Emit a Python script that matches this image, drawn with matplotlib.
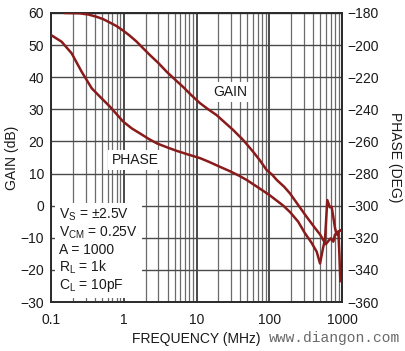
import matplotlib
matplotlib.use("Agg")
import matplotlib.pyplot as plt
from matplotlib import font_manager
from matplotlib.ticker import FixedLocator, NullFormatter, LogLocator

names = {f.name for f in font_manager.fontManager.ttflist}
FAM = 'Liberation Sans Narrow' if 'Liberation Sans Narrow' in names else 'Liberation Sans'
FS = 11.5 if FAM == 'Liberation Sans Narrow' else 10

plt.rcParams['font.family'] = [FAM, 'DejaVu Sans']
plt.rcParams['mathtext.fontset'] = 'custom'
plt.rcParams['mathtext.rm'] = FAM
plt.rcParams['mathtext.it'] = FAM
plt.rcParams['mathtext.default'] = 'regular'

# ---- data ----
gain_freq = [0.155, 0.2, 0.25, 0.33, 0.425, 0.52, 0.648, 0.8, 0.985, 1.2, 1.5, 1.85,
             2.29, 3.0, 3.89, 5.0, 6.6, 8.5, 11.2, 14.5, 18.9, 24.5, 31.8, 44, 60,
             75, 92, 110, 127, 160, 193, 250, 327, 420, 500, 553, 600, 650, 700,
             760, 800, 850, 900, 950, 1000]
gain_db = [60, 59.95, 59.9, 59.5, 58.8, 58.1, 57.0, 55.9, 54.5, 53.0, 51.1, 49.0,
           46.9, 44.4, 41.7, 39.4, 36.9, 34.4, 31.9, 30.0, 28.2, 25.9, 23.6, 20.4, 16.8,
           14.0, 11.1, 9.6, 8.0, 5.9, 3.8, 0.2, -3.5, -6.8, -9.0, -10.7, -12.0, -11.0,
           -10.2, -11.2, -9.0, -8.6, -8.2, -7.6, -8.0]

phase_freq = [0.1, 0.14, 0.192, 0.264, 0.363, 0.47, 0.648, 0.985, 1.3, 1.67, 2.2, 2.85,
              3.9, 5.3, 7.5, 11.2, 15, 21, 29, 38, 49, 70, 100, 156, 193, 250, 310,
              380, 449, 499, 553, 583, 628, 680, 721, 802, 845, 890, 920, 950]
phase_deg = [-193.7, -197.9, -205.1, -216.6, -226.9, -232.1, -238.4, -247.7, -252.0,
             -255.0, -258.4, -261.2, -263.6, -265.8, -268.0, -270.4, -272.8, -275.8,
             -278.6, -281.2, -284.0, -288.6, -293.3, -300.0, -304.0, -310.0, -317.2,
             -323.0, -328.7, -336.0, -325.6, -321.4, -296.5, -301.0, -300.7, -314.0,
             -318.0, -316.0, -330.0, -347.0]

x_ticks = [0.1, 1, 10, 100, 1000]
x_tick_labels = ['0.1', '1', '10', '100', '1000']
gain_ticks = [60, 50, 40, 30, 20, 10, 0, -10, -20, -30]
phase_ticks = [-180, -200, -220, -240, -260, -280, -300, -320, -340, -360]

CURVE = '#8a1b1b'

fig = plt.figure(figsize=(4.05, 3.51), dpi=100)
ax = fig.add_axes([51/405, 1-302/351, 291/405, 289/351])
ax.set_xscale('log')
ax.set_xlim(0.1, 1000)
ax.set_ylim(-30, 60)
ax.xaxis.set_major_locator(FixedLocator(x_ticks))
ax.set_xticklabels(x_tick_labels)
ax.xaxis.set_minor_locator(LogLocator(base=10, subs=range(2, 10)))
ax.xaxis.set_minor_formatter(NullFormatter())
ax.set_yticks(gain_ticks)
ax.set_yticklabels([str(t).replace('-', '\u2212') for t in gain_ticks])
ax.tick_params(which='both', length=0, labelsize=FS, colors='#1a1a1a')
ax.tick_params(axis='y', pad=5)
ax.tick_params(axis='x', pad=8)

ax.grid(True, which='major', axis='x', color='#3c3c3c', lw=1.3, zorder=1)
ax.grid(True, which='minor', axis='x', color='#6a6a6a', lw=0.9, zorder=1)
ax.grid(True, which='major', axis='y', color='#4a4a4a', lw=1.0, zorder=1)
for s in ax.spines.values():
    s.set_color('#2a2a2a')
    s.set_linewidth(1.4)

ax2 = ax.twinx()
ax2.set_ylim(-360, -180)
ax2.set_yticks(phase_ticks)
ax2.set_yticklabels([str(t).replace('-', '\u2212') for t in phase_ticks])
ax2.tick_params(length=0, labelsize=FS, pad=3.5, colors='#1a1a1a')
for s in ax2.spines.values():
    s.set_visible(False)

ax.plot(gain_freq, gain_db, color=CURVE, lw=1.8, zorder=5, solid_joinstyle='round')
ax2.plot(phase_freq, phase_deg, color=CURVE, lw=1.8, zorder=5, solid_joinstyle='round')

box = dict(facecolor='white', edgecolor='none', pad=2.5)
ax2.text(230/405, 1-92/351, 'GAIN', transform=fig.transFigure, ha='center', va='center',
         fontsize=FS, color='#1a1a1a', bbox=box, zorder=4)
ax2.text(135/405, 1-160/351, 'PHASE', transform=fig.transFigure, ha='center', va='center',
         fontsize=FS, color='#1a1a1a', bbox=box, zorder=4)

cond = ('V$_{S}$ = \u00b12.5V\n'
        'V$_{CM}$ = 0.25V\n'
        'A = 1000\n'
        'R$_{L}$ = 1k\n'
        'C$_{L}$ = 10pF')
ax2.text(59/405, 1-207/351, cond, transform=fig.transFigure, ha='left', va='top',
         fontsize=FS, color='#1a1a1a', linespacing=1.12,
         bbox=dict(facecolor='white', edgecolor='none', pad=3), zorder=4)

fig.text(196/405, 1-339/351, 'FREQUENCY (MHz)', ha='center', va='center',
         fontsize=FS, color='#1a1a1a')
fig.text(12/405, 1-157.5/351, 'GAIN (dB)', ha='center', va='center', rotation=90,
         fontsize=FS, color='#1a1a1a')
fig.text(395/405, 1-157.5/351, 'PHASE (DEG)', ha='center', va='center', rotation=-90,
         fontsize=FS, color='#1a1a1a')
fig.text(334/405, 1-338/351, 'www.diangon.com', ha='center', va='center',
         fontsize=10.5, color='#6a6a6a', family=['Liberation Mono', 'DejaVu Sans Mono'])

fig.savefig('out.png', dpi=100, facecolor='white')
